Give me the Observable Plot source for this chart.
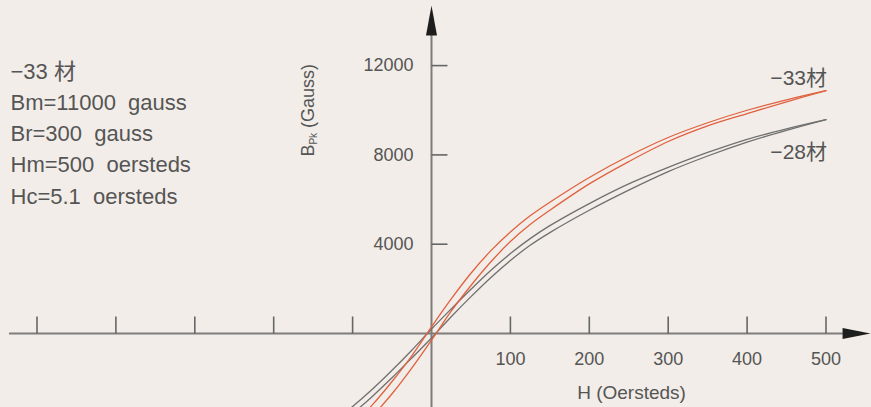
<!DOCTYPE html>
<html><head><meta charset="utf-8">
<script src="https://cdn.jsdelivr.net/npm/d3@7"></script>
<script src="https://cdn.jsdelivr.net/npm/@observablehq/plot@0.6"></script>
<style>
html,body{margin:0;padding:0;background:#f2ede8;}
#chart{width:871px;height:407px;overflow:hidden;}
</style>
</head><body><div id="chart"></div>
<script>
// ---- data (H in oersteds, B in gauss) ----
const H = [-150, -125, -100, -75, -50, -25, 0, 25, 50, 75, 100, 125, 150, 200, 250, 300, 350, 400, 450, 500];
const red33Upper  = [-5520, -4880, -4120, -3200, -2150, -1000, 300, 1550, 2700, 3700, 4550, 5270, 5880, 6990, 7950, 8780, 9440, 10000, 10470, 10880];
const red33Lower  = [-5880, -5270, -4550, -3700, -2700, -1550, -300, 1000, 2150, 3200, 4120, 4880, 5520, 6700, 7700, 8600, 9300, 9850, 10380, 10880];
const gray28Upper = [-4520, -3950, -3270, -2500, -1650, -750, 200, 1100, 1980, 2820, 3580, 4250, 4830, 5820, 6700, 7440, 8110, 8700, 9170, 9580];
const gray28Lower = [-4830, -4250, -3580, -2820, -1980, -1100, -200, 750, 1650, 2500, 3270, 3950, 4520, 5520, 6420, 7250, 7950, 8570, 9100, 9580];

const xTicks = [-500, -400, -300, -200, -100, 100, 200, 300, 400, 500];
const xTickLabels = [100, 200, 300, 400, 500];
const yTicks = [4000, 8000, 12000];
const infoLines = ["\u221233 材", "Bm=11000\u00a0\u00a0gauss", "Br=300\u00a0\u00a0gauss", "Hm=500\u00a0\u00a0oersteds", "Hc=5.1\u00a0\u00a0oersteds"];
const seriesLabels = ["\u221233材", "\u221228材"];
const xTitle = "H (Oersteds)";
const yTitle = "BPk (Gauss)";

// ---- build tables ----
function rows(vals, branch) { return H.map((h, i) => ({h, b: vals[i], branch})); }
const redRows = [...rows(red33Upper, "up"), ...rows(red33Lower, "down")];
const grayRows = [...rows(gray28Upper, "up"), ...rows(gray28Lower, "down")];

// ---- custom symbols ----
const arrowUp = {draw(c){c.moveTo(0,-15);c.lineTo(5.5,15);c.lineTo(-5.5,15);c.closePath();}};
const arrowRight = {draw(c){c.moveTo(14,0);c.lineTo(-14,-5.5);c.lineTo(-14,5.5);c.closePath();}};
const tickUp = {draw(c){c.moveTo(0,0);c.lineTo(0,-17);}};
const tickRight = {draw(c){c.moveTo(0,0);c.lineTo(16,0);}};

const textColor = "#555";
const axisColor = "#7d7d7d";
const redColor = "#e0613f";
const grayColor = "#707070";
const FONT = "Liberation Sans, Arial, Noto Sans CJK SC, sans-serif";

const chart = Plot.plot({
  width: 871, height: 407, margin: 0,
  x: {domain: [-546.26, 557.67], axis: null},
  y: {domain: [-3314.7, 14916], axis: null},
  style: {background: "#f2ede8", fontFamily: FONT},
  marks: [
    // axes
    Plot.ruleY([0], {x1: -534.9, x2: 522, stroke: axisColor, strokeWidth: 2}),
    Plot.ruleX([0], {y1: -3314.7, y2: 13400, stroke: axisColor, strokeWidth: 2}),
    Plot.dot(xTicks, {x: d => d, y: 0, symbol: tickUp, fill: "none", stroke: "#666", strokeWidth: 1.6}),
    Plot.dot(yTicks, {x: 0, y: d => d, symbol: tickRight, fill: "none", stroke: "#666", strokeWidth: 1.6}),
    Plot.dot([0], {x: 0, y: 14020, symbol: arrowUp, fill: "#1e1e1e", stroke: "none"}),
    Plot.dot([0], {x: 538.7, y: 0, symbol: arrowRight, fill: "#1e1e1e", stroke: "none"}),
    // tick labels
    Plot.text(xTickLabels, {x: d => d, y: 0, dy: 26, text: d => String(d), fontSize: 18, fill: textColor}),
    Plot.text(yTicks, {x: 0, y: d => d, dx: -18, textAnchor: "end", text: d => String(d), fontSize: 18, fill: textColor}),
    // titles
    Plot.text([xTitle], {x: 253.5, y: 0, dy: 59, text: d => d, fontSize: 19, fill: textColor, style: {letterSpacing: "0.4px"}}),
    Plot.text([yTitle], {x: -156, y: 10000, rotate: -90, text: d => d, fontSize: 18, fill: textColor}),
    // curves
    Plot.line(grayRows, {x: "h", y: "b", z: "branch", stroke: grayColor, strokeWidth: 1.3, curve: "catmull-rom", clip: true}),
    Plot.line(redRows, {x: "h", y: "b", z: "branch", stroke: redColor, strokeWidth: 1.3, curve: "catmull-rom", clip: true}),
    // series labels
    Plot.text([seriesLabels[0]], {x: 500, y: red33Upper[red33Upper.length - 1], dx: 1, dy: -12, textAnchor: "end", text: d => d, fontSize: 21, fill: textColor, style: {letterSpacing: "0.8px"}}),
    Plot.text([seriesLabels[1]], {x: 500, y: gray28Upper[gray28Upper.length - 1], dx: 1, dy: 33, textAnchor: "end", text: d => d, fontSize: 21, fill: textColor, style: {letterSpacing: "0.8px"}}),
    // info block
    Plot.text([infoLines.join("\n")], {frameAnchor: "top-left", dx: 10, dy: 55.8, lineAnchor: "top", lineHeight: 1.423, textAnchor: "start", text: d => d, fontSize: 22, fill: textColor, style: {letterSpacing: "0.9px"}})
  ]
});
document.getElementById("chart").appendChild(chart);

// subscript for the y title
d3.select(chart).selectAll("text").filter(function(){ return this.textContent === yTitle; }).each(function(){
  const t = d3.select(this);
  t.text(null);
  t.append("tspan").text("B");
  t.append("tspan").attr("font-size", 10).attr("dy", 3).text("Pk");
  t.append("tspan").attr("dy", -3).text("\u00a0(Gauss)");
});
</script></body></html>
